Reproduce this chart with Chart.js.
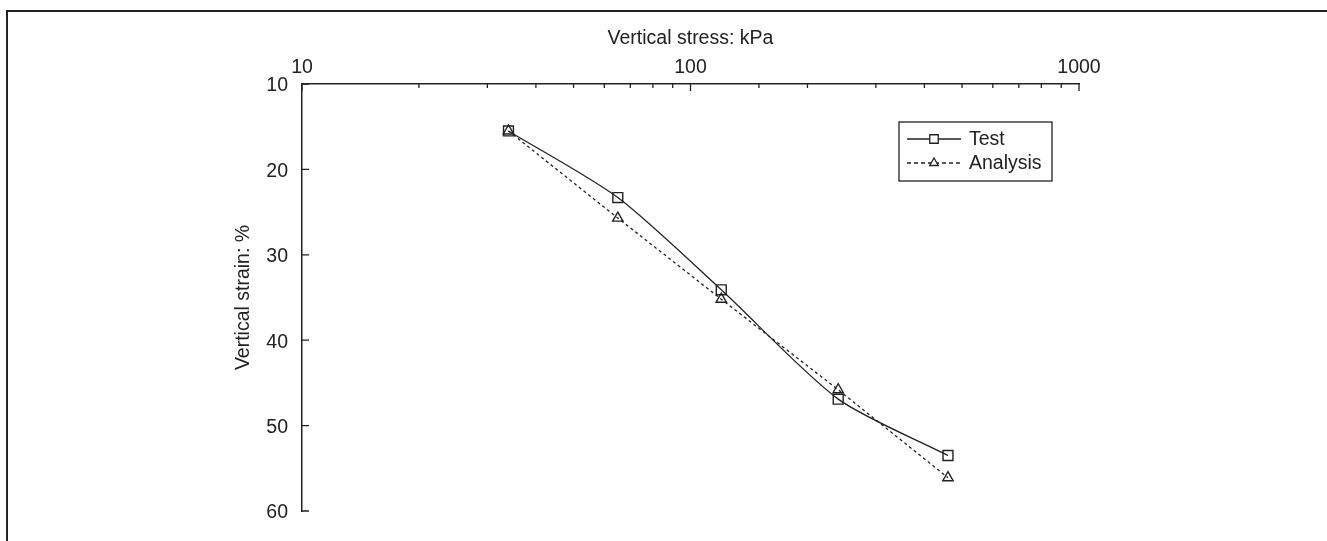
<!DOCTYPE html>
<html>
<head>
<meta charset="utf-8">
<script src="https://cdn.jsdelivr.net/npm/chart.js@4"></script>
<style>
  body { margin: 0; background: #fff; }
  #wrap { position: relative; width: 1327px; height: 541px; }
  #frame { position: absolute; left: 6px; top: 10px; right: 0; bottom: 0; border-top: 2px solid #222; border-left: 2px solid #222; }
  #chart { position: absolute; left: 0; top: 0; }
</style>
</head>
<body>
<div id="wrap">
  <div id="frame"></div>
  <canvas id="chart" width="1327" height="541"></canvas>
</div>
<script>
// vertical stress (kPa) for each load step
const stress = [34, 65, 120, 240, 460]
// vertical strain (%)
const testStrain = [15.5, 23.3, 34.1, 46.9, 53.5]
const analysisStrain = [15.5, 25.7, 35.2, 45.8, 56.1]
const strainTicks = [10, 20, 30, 40, 50, 60]

const ink = '#222'
const fontFamily = "'Liberation Sans', Arial, sans-serif"
const fontSize = 19.5

const toPoints = (ys) => stress.map((x, i) => ({ x: x, y: ys[i] }))

// ticks pointing into the plot, like the original figure
const inwardTicks = {
    id: 'inwardTicks',
    afterDatasetsDraw(chart) {
        const ctx = chart.ctx
        const xs = chart.scales.x
        const ys = chart.scales.y
        ctx.save()
        ctx.strokeStyle = ink
        ctx.lineWidth = 1.3
        ctx.beginPath()
        xs.ticks.forEach((t) => {
            const px = xs.getPixelForValue(t.value)
            const major = Math.abs(Math.log10(t.value) - Math.round(Math.log10(t.value))) < 1e-6
            const len = major ? 7 : 4
            ctx.moveTo(px, xs.bottom)
            ctx.lineTo(px, xs.bottom + len)
        })
        ys.ticks.forEach((t) => {
            const py = ys.getPixelForValue(t.value)
            ctx.moveTo(ys.right, py)
            ctx.lineTo(ys.right + 7, py)
        })
        ctx.stroke()
        ctx.restore()
    }
}

// boxed legend in the upper right of the plot
const boxLegend = {
    id: 'boxLegend',
    afterDraw(chart) {
        const ctx = chart.ctx
        const left = 899, top = 122, w = 153, h = 59
        ctx.save()
        ctx.strokeStyle = ink
        ctx.lineWidth = 1.3
        ctx.strokeRect(left, top, w, h)
        chart.data.datasets.forEach((ds, i) => {
            const y = top + 17 + i * 24
            ctx.strokeStyle = ds.borderColor
            ctx.lineWidth = ds.borderWidth
            ctx.setLineDash(ds.legendDash || [])
            ctx.beginPath()
            ctx.moveTo(left + 8, y)
            ctx.lineTo(left + 62, y)
            ctx.stroke()
            ctx.setLineDash([])
            ctx.fillStyle = '#fff'
            Chart.helpers.drawPoint(ctx, {
                pointStyle: ds.pointStyle,
                radius: ds.pointRadius - 1,
                borderWidth: ds.pointBorderWidth
            }, left + 35, y)
            ctx.fillStyle = ink
            ctx.font = fontSize + 'px ' + fontFamily
            ctx.textBaseline = 'middle'
            ctx.textAlign = 'left'
            ctx.fillText(ds.label, left + 70, y + 1)
        })
        ctx.restore()
    }
}

const data = {
    datasets: [{
        label: 'Test',
        data: toPoints(testStrain),
        borderColor: ink,
        borderWidth: 1.3,
        tension: 0.25,
        pointStyle: 'rect',
        pointRadius: 7,
        pointBorderWidth: 1.4,
        pointBackgroundColor: 'rgba(255,255,255,0)',
        pointBorderColor: ink
    }, {
        label: 'Analysis',
        data: toPoints(analysisStrain),
        borderColor: ink,
        borderWidth: 1.3,
        borderDash: [3, 3],
        legendDash: [4, 3],
        tension: 0,
        pointStyle: 'triangle',
        pointRadius: 6,
        pointBorderWidth: 1.4,
        pointBackgroundColor: 'rgba(255,255,255,0)',
        pointBorderColor: ink
    }]
}

const config = {
    type: 'line',
    data: data,
    options: {
        responsive: false,
        animation: false,
        layout: {
            padding: { left: 0, top: 0, right: 248, bottom: 30 }
        },
        plugins: {
            legend: { display: false },
            tooltip: { enabled: false }
        },
        scales: {
            x: {
                type: 'logarithmic',
                position: 'top',
                min: 10,
                max: 1000,
                afterFit: (scale) => { scale.height = 84 },
                grid: { display: true, drawOnChartArea: false, drawTicks: false },
                border: { display: true, color: ink, width: 1.5 },
                ticks: {
                    autoSkip: false,
                    maxRotation: 0,
                    padding: 5,
                    color: ink,
                    font: { family: fontFamily, size: fontSize },
                    callback: function(value) {
                        const l = Math.log10(value)
                        if (Math.abs(l - Math.round(l)) < 1e-6) {
                            return String(value)
                        } else {
                            return ''
                        }
                    }
                },
                title: {
                    display: true,
                    text: 'Vertical stress: kPa',
                    color: ink,
                    font: { family: fontFamily, size: fontSize },
                    padding: { top: 27, bottom: 0 }
                }
            },
            y: {
                type: 'linear',
                reverse: true,
                min: 10,
                max: 60,
                afterFit: (scale) => { scale.width = 302 },
                afterBuildTicks: (scale) => {
                    scale.ticks = strainTicks.map((v) => ({ value: v }))
                },
                grid: { display: true, drawOnChartArea: false, drawTicks: false },
                border: { display: true, color: ink, width: 1.5 },
                ticks: {
                    padding: 14,
                    labelOffset: 2,
                    color: ink,
                    font: { family: fontFamily, size: fontSize }
                },
                title: {
                    display: true,
                    text: 'Vertical strain: %',
                    color: ink,
                    font: { family: fontFamily, size: fontSize },
                    padding: { top: 232, bottom: 0 }
                }
            }
        }
    },
    plugins: [inwardTicks, boxLegend]
}

const myChart = new Chart(document.getElementById('chart'), config)
</script>
</body>
</html>
